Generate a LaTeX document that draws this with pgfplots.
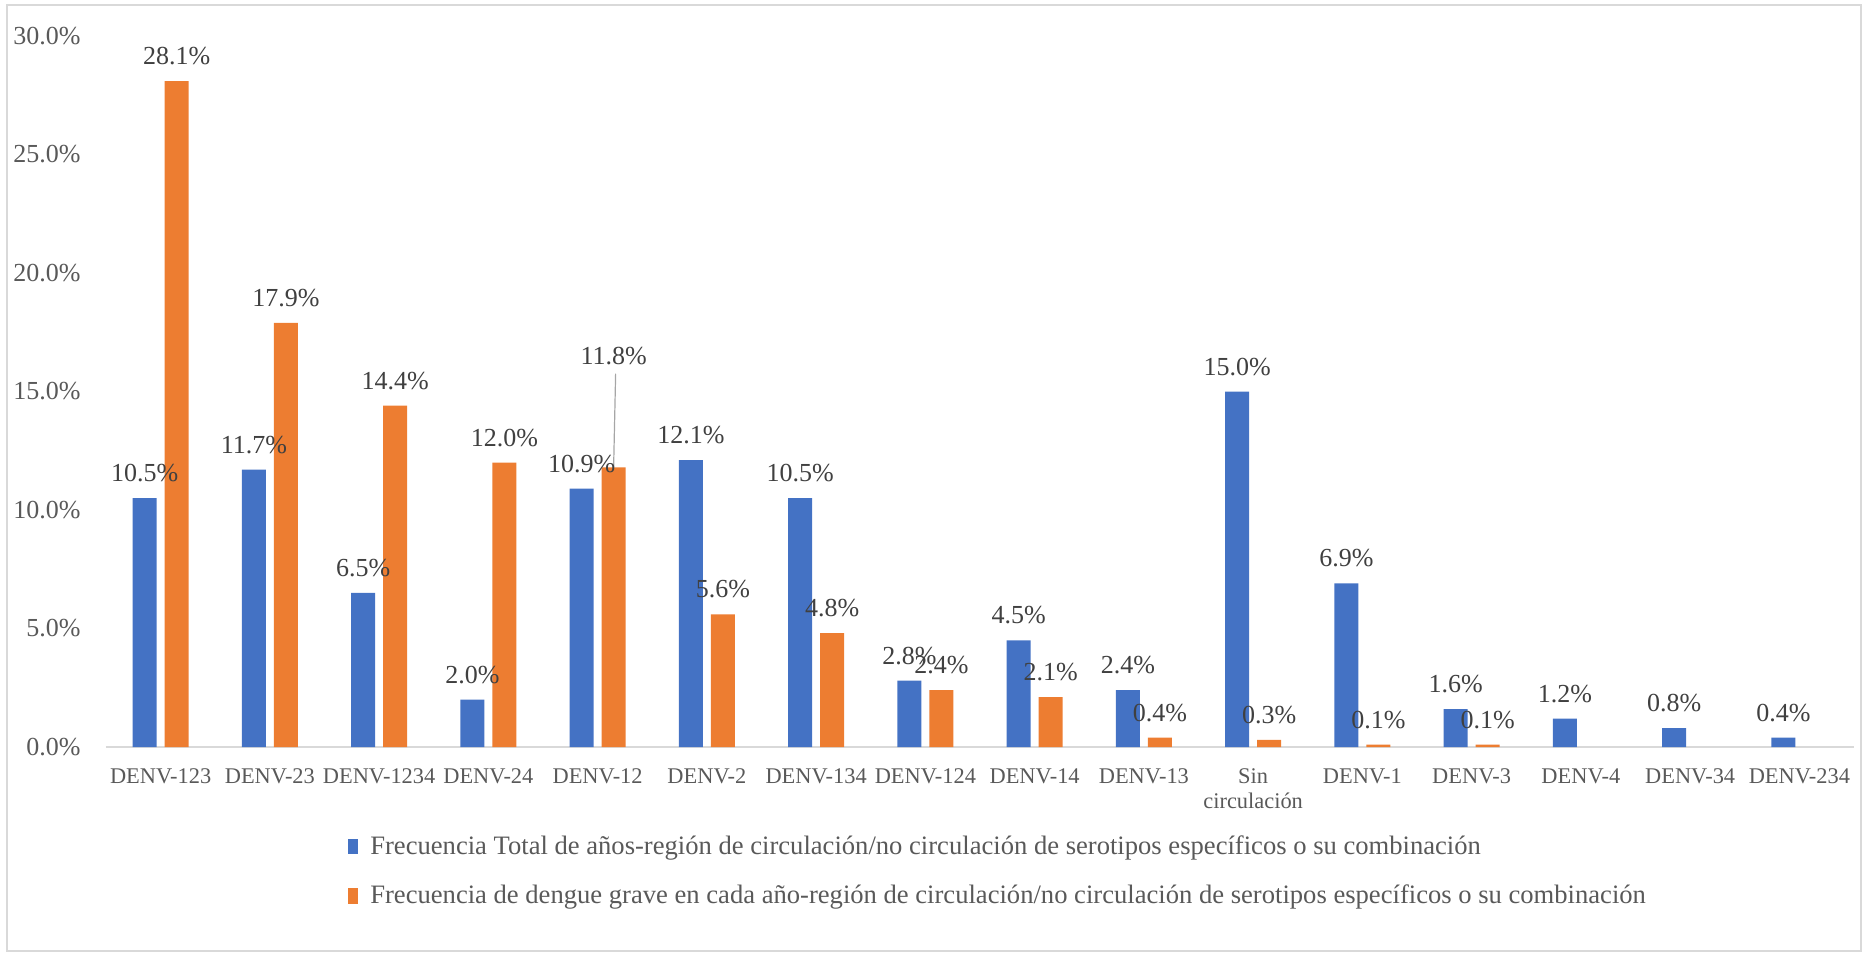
\documentclass[border=0pt]{standalone}
\usepackage{pgfplots}
\pgfplotsset{compat=1.18}
\usepackage{pgfplotstable}
\usepackage{fontspec}
\setmainfont{Liberation Serif}
\definecolor{cblue}{HTML}{4472C4}
\definecolor{corange}{HTML}{ED7D31}
\definecolor{ctick}{HTML}{595959}
\definecolor{clab}{HTML}{404040}
\definecolor{cline}{HTML}{D9D9D9}

\pgfplotstableread{
x y s
0 10.5 8.25
1 11.7 8.25
2 6.5 8.25
3 2.0 8.25
4 10.9 8.25
5 12.1 8.25
6 10.5 8.25
7 2.8 8.25
8 4.5 8.25
9 2.4 8.25
10 15.0 8.25
11 6.9 8.25
12 1.6 8.25
13 1.2 8.25
14 0.8 8.25
15 0.4 8.25
}\bluedata
\pgfplotstableread{
x y s
0 28.1 8.25
1 17.9 8.25
2 14.4 8.25
3 12.0 8.25
4 11.8 51.6
5 5.6 8.25
6 4.8 8.25
7 2.4 8.25
8 2.1 8.25
9 0.4 8.25
10 0.3 8.25
11 0.1 8.25
12 0.1 8.25
}\orangedata

\begin{document}
\begin{tikzpicture}
\begin{axis}[
  at={(0,0)}, anchor=south west,
  scale only axis,
  width=874pt, height=355.5pt,
  xmin=-0.5, xmax=15.5,
  ymin=0, ymax=30,
  ybar,
  axis lines=left,
  axis line style={-},
  y axis line style={draw=none},
  x axis line style={cline, line width=1pt},
  major tick length=0pt,
  ytick={0,5,10,15,20,25,30},
  yticklabels={0.0\%,5.0\%,10.0\%,15.0\%,20.0\%,25.0\%,30.0\%},
  yticklabel style={font=\fontsize{13}{15}\selectfont, text=ctick, anchor=east, inner sep=0pt, xshift=-12.5pt},
  xtick={0,...,15},
  xticklabels={DENV-123,DENV-23,DENV-1234,DENV-24,DENV-12,DENV-2,DENV-134,DENV-124,DENV-14,DENV-13,Sin\\circulación,DENV-1,DENV-3,DENV-4,DENV-34,DENV-234},
  xticklabel style={font=\fontsize{11.2}{12.5}\selectfont, text=ctick, anchor=north, inner sep=0pt, yshift=-10.5pt, align=center},
  bar width=12pt,
  point meta=y,
  nodes near coords={\pgfmathprintnumber[fixed,fixed zerofill,precision=1,assume math mode=true]{\pgfplotspointmeta}\%},
  nodes near coords style={font=\fontsize{13}{15}\selectfont, text=clab, anchor=base, inner sep=0pt},
  visualization depends on={\thisrow{s} \as \myshift},
  every node near coord/.append style={yshift=\myshift pt},
  legend cell align=left,
  legend style={at={(axis description cs:0.1384,-0.118)}, anchor=north west, draw=none, fill=none,
    font=\fontsize{13.3}{15}\selectfont, text=ctick, row sep=10pt, inner sep=0pt,
    /tikz/every odd column/.append style={column sep=4pt}},
  legend image code/.code={\fill[#1] (0pt,-3.8pt) rectangle (5pt,3.8pt);},
]
\addplot[bar shift=-8pt, fill=cblue, draw=none] table[x=x, y=y] {\bluedata};
\addlegendentry{Frecuencia Total de años-región de circulación/no circulación de serotipos específicos o su combinación}
\addplot[bar shift=8pt, fill=corange, draw=none] table[x=x, y=y] {\orangedata};
\addlegendentry{Frecuencia de dengue grave en cada año-región de circulación/no circulación de serotipos específicos o su combinación}
\draw[color=gray!70, line width=0.6pt] ([xshift=8pt]axis cs:4,11.8) -- ([xshift=9pt, yshift=46.8pt]axis cs:4,11.8);
\end{axis}
\draw[cline, line width=0.8pt] (-49.5pt,-102pt) rectangle (877.5pt,371pt);
\path (-53pt,-103.5pt) rectangle (880pt,373.5pt);
\end{tikzpicture}
\end{document}
